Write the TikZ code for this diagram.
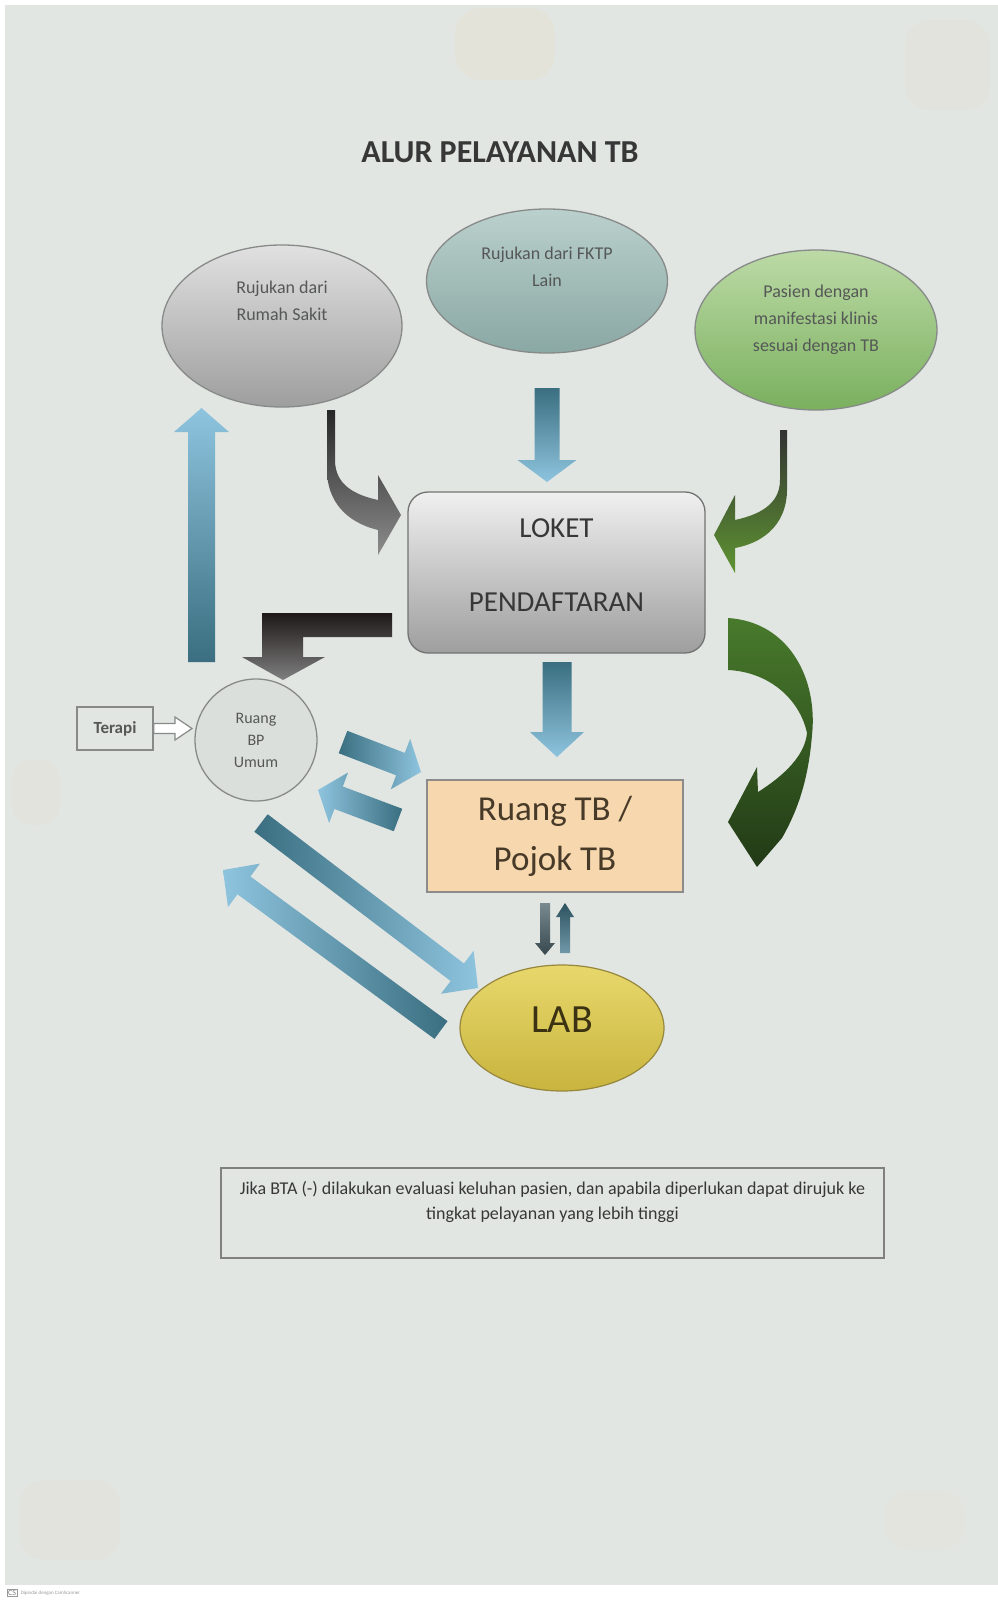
\documentclass[tikz,border=0pt]{standalone}
\usepackage{fontspec}
\setmainfont{Carlito}
\usetikzlibrary{shapes.geometric,calc}

% block arrow: from, to, shaft half width, head half width, head length, style
\newcommand{\flowarrow}[6]{%
  \coordinate (fa-h) at ($(#2)!#5!(#1)$);
  \path[#6] ($(#1)!#3!90:(#2)$) -- ($(fa-h)!#3!90:(#2)$) -- ($(fa-h)!#4!90:(#2)$) -- (#2)
    -- ($(fa-h)!#4!-90:(#2)$) -- ($(fa-h)!#3!-90:(#2)$) -- ($(#1)!#3!-90:(#2)$) -- cycle;}

\begin{document}
\begin{tikzpicture}[x=1pt, y=-1pt,
    bubble/.style={ellipse, draw=edgegrey, line width=1.3pt, inner sep=0pt},
    smalltxt/.style={font=\fontsize{18}{27}\selectfont, text=softgrey, align=center},
    bluedown/.style={shade, top color=bludark, bottom color=blulight},
    blueright/.style={shade, left color=bludark, right color=blulight},
    blueleft/.style={shade, left color=blulight, right color=bludark}]
        \definecolor{paper}{RGB}{225,230,227}
        \definecolor{stain}{RGB}{232,222,200}
        \definecolor{inkgrey}{RGB}{55,55,55}
        \definecolor{softgrey}{RGB}{85,88,86}
        \definecolor{edgegrey}{RGB}{135,138,136}
        \definecolor{blulight}{RGB}{142,196,222}
        \definecolor{bludark}{RGB}{58,110,128}
        \definecolor{grnbig}{RGB}{72,122,44}
        \definecolor{grndeep}{RGB}{34,58,22}

        \useasboundingbox (0,0) rectangle (998,1601);
        \fill[white] (0,0) rectangle (998,1601);
        \fill[paper] (5,5) rectangle (998,1585);
        \fill[stain, opacity=0.3, rounded corners=25pt] (455,8) rectangle (555,80);
        \fill[stain, opacity=0.25, rounded corners=25pt] (905,20) rectangle (990,110);
        \fill[stain, opacity=0.25, rounded corners=20pt] (12,760) rectangle (60,825);
        \fill[stain, opacity=0.25, rounded corners=25pt] (20,1480) rectangle (120,1560);
        \fill[stain, opacity=0.2, rounded corners=25pt] (885,1490) rectangle (965,1550);

        \node[font=\fontsize{32}{38}\selectfont\bfseries, text=inkgrey] (title) at (500,152) {ALUR PELAYANAN TB};

        % sources
        \node[bubble, minimum width=240pt, minimum height=162pt, top color=black!12, bottom color=black!38,
            label={[smalltxt, yshift=25pt]center:Rujukan dari\\Rumah Sakit}] (rs) at (282,326) {};
        \node[bubble, minimum width=241pt, minimum height=144pt, top color={rgb,255:red,186;green,208;blue,204}, bottom color={rgb,255:red,138;green,168;blue,164},
            label={[smalltxt, yshift=14pt]center:Rujukan dari FKTP\\Lain}] (fktp) at (547,281) {};
        \node[bubble, minimum width=242pt, minimum height=160pt, top color={rgb,255:red,188;green,218;blue,166}, bottom color={rgb,255:red,122;green,176;blue,94},
            label={[smalltxt, yshift=10pt]center:Pasien dengan\\manifestasi klinis\\sesuai dengan TB}] (pasien) at (816,330) {};

        \node[draw=black!55, line width=1.3pt, rounded corners=20pt, minimum width=297pt, minimum height=161pt,
            top color=black!6, middle color=black!18, bottom color=black!38,
            label={[font=\fontsize{29}{74}\selectfont, text=inkgrey, align=center, yshift=7.5pt]center:LOKET\\PENDAFTARAN}] (loket) at (556.5,572.5) {};

        \node[circle, draw=edgegrey, line width=1.3pt, fill=black!3!paper, minimum size=122pt, inner sep=0pt,
            font=\fontsize{16}{22}\selectfont, text=softgrey, align=center] (bp) at (256,740) {Ruang\\BP\\Umum};
        \node[draw=edgegrey, line width=1.3pt, minimum width=76pt, minimum height=43pt,
            font=\fontsize{17}{20}\selectfont\bfseries, text=softgrey] (terapi) at (115,728.5) {Terapi};

        \node[draw=black!45, line width=1.2pt, fill={rgb,255:red,246;green,215;blue,174}, minimum width=256pt, minimum height=112pt,
            font=\fontsize{35}{50}\selectfont, text={rgb,255:red,72;green,58;blue,40}, align=center] (tb) at (555,836) {Ruang TB /\\Pojok TB};

        \node[ellipse, draw={rgb,255:red,150;green,135;blue,60}, line width=1.2pt, minimum width=204pt, minimum height=126pt,
            top color={rgb,255:red,232;green,216;blue,108}, bottom color={rgb,255:red,200;green,180;blue,62},
            label={[font=\fontsize{40}{44}\selectfont, text={rgb,255:red,58;green,50;blue,18}, yshift=8pt]center:LAB}] (lab) at (562,1028) {};

        \node[draw=black!50, line width=1.4pt, minimum width=663pt, minimum height=90pt] (note) at (552.5,1213) {};
        \node[font=\fontsize{18}{25}\selectfont, text=inkgrey, align=center] (note-text) at (552.5,1202)
            {Jika BTA (-) dilakukan evaluasi keluhan pasien, dan apabila diperlukan dapat dirujuk ke\\tingkat pelayanan yang lebih tinggi};

        % arrow ends
        \coordinate (fktp-out) at (547,388);
        \coordinate (loket-in) at (547,482);
        \coordinate (loket-out) at (557,662);
        \coordinate (tb-in) at (557,757);
        \coordinate (bp-up) at (201.5,662);
        \coordinate (rs-in) at (201.5,408);
        \coordinate (bp-tb-s) at (343,742);
        \coordinate (bp-tb-e) at (421,772);
        \coordinate (tb-bp-s) at (398,820);
        \coordinate (tb-bp-e) at (318,790);
        \coordinate (bp-lab-s) at (261,823);
        \coordinate (bp-lab-e) at (478,988);
        \coordinate (lab-bp-s) at (441,1030);
        \coordinate (lab-bp-e) at (223,870);
        \coordinate (tb-lab-s) at (545,903);
        \coordinate (tb-lab-e) at (545,955);
        \coordinate (lab-tb-s) at (565,953);
        \coordinate (lab-tb-e) at (565,903);
        \coordinate (bp-in) at (192,728.5);

        \flowarrow{fktp-out}{loket-in}{12.5pt}{29.5pt}{22pt}{bluedown}
        \flowarrow{loket-out}{tb-in}{14.5pt}{27pt}{25pt}{bluedown}
        \flowarrow{bp-up}{rs-in}{13.5pt}{27.5pt}{24pt}{shade, top color=blulight, bottom color=bludark}
        \flowarrow{bp-tb-s}{bp-tb-e}{12pt}{27pt}{22pt}{blueright}
        \flowarrow{tb-bp-s}{tb-bp-e}{12pt}{27pt}{22pt}{blueleft}
        \flowarrow{bp-lab-s}{bp-lab-e}{11pt}{27pt}{26pt}{blueright}
        \flowarrow{lab-bp-s}{lab-bp-e}{11pt}{27pt}{26pt}{blueleft}
        \flowarrow{tb-lab-s}{tb-lab-e}{5pt}{10pt}{12pt}{shade, top color={rgb,255:red,120;green,138;blue,144}, bottom color={rgb,255:red,55;green,72;blue,78}}
        \flowarrow{lab-tb-s}{lab-tb-e}{5pt}{9pt}{14pt}{shade, top color={rgb,255:red,45;green,82;blue,94}, bottom color={rgb,255:red,112;green,152;blue,168}}
        \flowarrow{terapi.east}{bp-in}{5pt}{11.5pt}{17pt}{fill=white, draw=edgegrey, line width=1.2pt}

        % curved and bent arrows
        \shade[top color=black!85, bottom color=black!45] (327,410) -- (327,470) .. controls (327,500) and (345,522) .. (378,530)
            -- (378,555) -- (401,515) -- (378,475) -- (378,500) .. controls (355,495) and (335,485) .. (335,460) -- (335,410) -- cycle;
        \shade[top color=black!80, bottom color={rgb,255:red,94;green,148;blue,50}] (787,430) -- (787,490) .. controls (787,520) and (768,542) .. (735,548)
            -- (735,573) -- (714,535) -- (735,495) -- (735,520) .. controls (758,515) and (780,505) .. (780,480) -- (780,430) -- cycle;
        \shade[top color={rgb,255:red,30;green,24;blue,24}, bottom color=black!50] (392,613) -- (262,613) -- (262,657) -- (242,657) -- (283,680)
            -- (325,657) -- (303,657) -- (303,637) -- (392,637) -- cycle;
        \shade[top color=grnbig, bottom color=grndeep] (728,618) .. controls (790,622) and (818,680) .. (812,735)
            .. controls (808,785) and (795,815) .. (782,838) -- (757,867) -- (728,822) -- (757,767) -- (758,792)
            .. controls (785,775) and (805,755) .. (807,733) .. controls (800,700) and (770,672) .. (728,670) -- cycle;

        \node[draw=black!40, line width=0.5pt, inner sep=1pt, font=\fontsize{8}{8}\selectfont, text=black!50] (cs) at (12,1593) {CS};
        \node[anchor=west, font=\fontsize{5}{5}\selectfont, text=black!40] (cs-text) at (cs.east) {Dipindai dengan CamScanner};
    \end{tikzpicture}
\end{document}
